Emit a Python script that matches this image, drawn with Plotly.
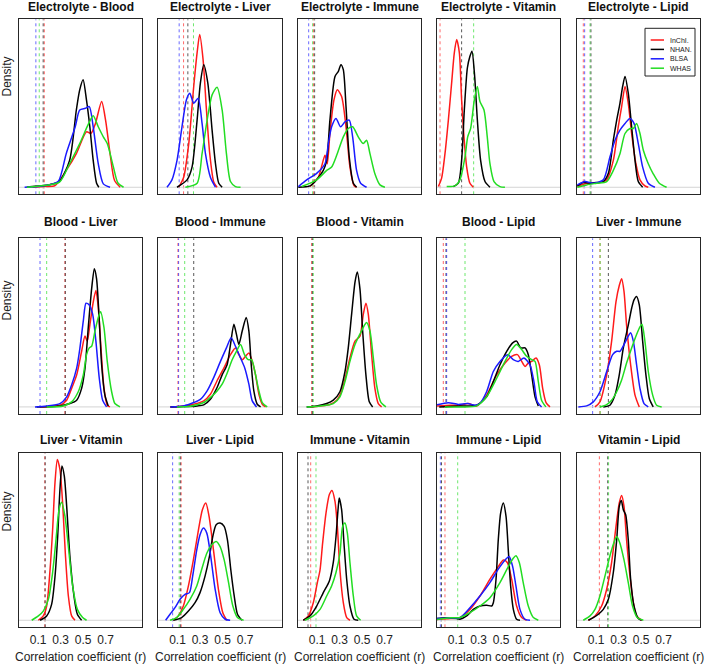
import plotly.graph_objects as go
from plotly.subplots import make_subplots

# -------------------------------
# DATA
# -------------------------------

studies = ["InChI.", "NHAN.", "BLSA", "WHAS"]
colours = {"InChI.": "#ff1a1a", "NHAN.": "#000000", "BLSA": "#1a1aff", "WHAS": "#22dd22"}

titles = ["Electrolyte - Blood", "Electrolyte - Liver", "Electrolyte - Immune", "Electrolyte - Vitamin", "Electrolyte - Lipid",
          "Blood - Liver", "Blood - Immune", "Blood - Vitamin", "Blood - Lipid", "Liver - Immune",
          "Liver - Vitamin", "Liver - Lipid", "Immune - Vitamin", "Immune - Lipid", "Vitamin - Lipid"]

tick_vals = [0.1, 0.3, 0.5, 0.7]
tick_text = ["0.1", "0.3", "0.5", "0.7"]

# density curves: study -> (r values, density)
electrolyte_blood = {
    "InChI.": ([0.05, 0.15, 0.25, 0.35, 0.44, 0.53, 0.57, 0.61, 0.665, 0.7, 0.74, 0.78, 0.83],
               [0.0, 0.05, 0.1, 1.0, 2.0, 3.3, 3.2, 3.8, 5.1, 4.0, 2.0, 0.4, 0.0]),
    "NHAN.": ([0.0, 0.2, 0.29, 0.38, 0.44, 0.47, 0.5, 0.53, 0.56, 0.59, 0.62, 0.64],
              [0.02, 0.15, 0.35, 1.6, 4.6, 5.8, 6.4, 5.2, 3.6, 1.6, 0.24, 0.0]),
    "BLSA": ([-0.02, 0.1, 0.2, 0.28, 0.35, 0.43, 0.47, 0.52, 0.555, 0.59, 0.635, 0.68, 0.74],
             [0.0, 0.05, 0.15, 0.35, 2.0, 3.6, 4.6, 4.7, 4.8, 3.6, 1.4, 0.2, 0.0]),
    "WHAS": ([0.0, 0.15, 0.29, 0.38, 0.47, 0.55, 0.59, 0.635, 0.68, 0.715, 0.77, 0.81, 0.86],
             [0.0, 0.1, 0.3, 1.4, 2.6, 3.8, 4.25, 3.6, 3.0, 2.6, 1.2, 0.25, 0.0]),
}
electrolyte_liver = {
    "InChI.": ([0.111, 0.155, 0.2, 0.244, 0.274, 0.297, 0.327, 0.357, 0.386, 0.422, 0.451],
               [0, 0.6, 2.6, 6.0, 8.0, 9.1, 7.6, 4.6, 2.0, 0.3, 0]),
    "NHAN.": ([0.096, 0.185, 0.229, 0.274, 0.303, 0.333, 0.369, 0.407, 0.437, 0.466, 0.496],
              [0, 0.44, 1.2, 4.0, 6.2, 7.3, 6.2, 3.4, 1.4, 0.24, 0]),
    "BLSA": ([0.007, 0.051, 0.096, 0.14, 0.179, 0.209, 0.244, 0.283, 0.318, 0.348, 0.392, 0.437],
             [0, 0.44, 1.6, 3.6, 5.2, 5.6, 5.0, 5.3, 3.8, 2.0, 0.6, 0]),
    "WHAS": ([0.17, 0.274, 0.318, 0.363, 0.407, 0.451, 0.496, 0.534, 0.57, 0.614, 0.659],
             [0, 0.24, 2.0, 4.0, 5.5, 5.95, 4.6, 2.0, 0.34, 0.04, 0]),
}
electrolyte_immune = {
    "InChI.": ([0.037, 0.111, 0.17, 0.19, 0.214, 0.25, 0.28, 0.318, 0.357, 0.392, 0.428, 0.451],
               [0.04, 0.6, 1.9, 1.4, 3.2, 5.2, 5.8, 5.4, 3.6, 1.2, 0.1, 0]),
    "NHAN.": ([-0.067, 0.037, 0.096, 0.155, 0.185, 0.214, 0.259, 0.289, 0.312, 0.333, 0.357, 0.386, 0.422, 0.451],
              [0, 0.08, 0.44, 1.0, 1.6, 4.0, 6.6, 6.9, 7.3, 7.0, 4.8, 1.8, 0.24, 0]),
    "BLSA": ([-0.067, 0.007, 0.096, 0.17, 0.2, 0.229, 0.268, 0.309, 0.348, 0.386, 0.416, 0.451, 0.487, 0.54],
             [0.04, 0.44, 0.83, 1.4, 2.6, 3.6, 4.1, 3.6, 3.9, 4.0, 3.0, 1.0, 0.24, 0]),
    "WHAS": ([-0.037, 0.096, 0.185, 0.229, 0.274, 0.333, 0.377, 0.416, 0.466, 0.511, 0.54, 0.57, 0.614, 0.659, 0.703],
             [0.04, 0.44, 1.0, 1.2, 1.9, 3.0, 3.5, 3.6, 3.0, 2.6, 2.8, 2.0, 0.8, 0.14, 0]),
}
electrolyte_vitamin = {
    "InChI.": ([-0.058, -0.029, 0.001, 0.031, 0.06, 0.084, 0.105, 0.129, 0.149, 0.17, 0.194, 0.223, 0.253],
               [0.04, 0.54, 2.0, 4.0, 6.2, 8.0, 8.8, 8.0, 5.2, 3.0, 1.2, 0.24, 0]),
    "NHAN.": ([0.075, 0.12, 0.149, 0.173, 0.2, 0.223, 0.241, 0.265, 0.289, 0.318, 0.357, 0.401],
              [0.04, 0.24, 1.6, 4.6, 7.1, 7.8, 8.1, 6.6, 4.0, 1.6, 0.34, 0]),
    "WHAS": ([0.016, 0.09, 0.134, 0.179, 0.203, 0.229, 0.262, 0.289, 0.312, 0.348, 0.377, 0.401, 0.437, 0.49, 0.534],
             [0.04, 0.08, 0.44, 1.8, 3.0, 3.5, 5.2, 6.0, 5.1, 4.6, 3.0, 1.4, 0.34, 0.04, 0]),
}
electrolyte_lipid = {
    "InChI.": ([-0.067, 0.016, 0.134, 0.194, 0.253, 0.297, 0.327, 0.357, 0.386, 0.416, 0.454, 0.49, 0.534, 0.564],
               [0.04, 0.24, 0.28, 0.44, 1.6, 3.6, 4.8, 6.0, 5.0, 3.2, 1.4, 0.44, 0.08, 0]),
    "NHAN.": ([-0.067, -0.014, 0.046, 0.105, 0.164, 0.209, 0.253, 0.283, 0.312, 0.336, 0.357, 0.386, 0.416, 0.446, 0.475, 0.514],
              [0.08, 0.28, 0.24, 0.28, 0.34, 0.83, 2.8, 4.0, 5.0, 6.0, 6.6, 5.6, 3.6, 1.6, 0.34, 0]),
    "BLSA": ([-0.067, 0.001, 0.075, 0.164, 0.223, 0.268, 0.312, 0.357, 0.401, 0.437, 0.475, 0.514, 0.564, 0.623],
             [0.14, 0.34, 0.24, 0.44, 1.8, 2.8, 3.4, 3.8, 4.1, 3.8, 2.6, 1.2, 0.24, 0]),
    "WHAS": ([-0.067, 0.016, 0.105, 0.194, 0.253, 0.312, 0.357, 0.401, 0.431, 0.46, 0.49, 0.52, 0.564, 0.608, 0.662, 0.727],
             [0.0, 0.14, 0.24, 0.34, 1.0, 2.0, 3.2, 3.5, 3.5, 3.8, 3.2, 2.2, 1.4, 0.8, 0.24, 0]),
}
blood_liver = {
    "InChI.": ([0.117, 0.294, 0.354, 0.398, 0.443, 0.487, 0.517, 0.537, 0.561, 0.591, 0.614, 0.635, 0.659, 0.686, 0.715, 0.739],
               [0, 0.1, 0.4, 1.1, 1.9, 3.3, 4.2, 3.9, 4.9, 6.25, 6.9, 5.9, 3.5, 1.1, 0.1, 0]),
    "NHAN.": ([0.087, 0.294, 0.383, 0.443, 0.487, 0.517, 0.546, 0.576, 0.6, 0.62, 0.641, 0.665, 0.694, 0.724],
              [0, 0.06, 0.2, 0.4, 1.1, 2.3, 4.7, 7.0, 8.2, 7.6, 5.5, 2.5, 0.7, 0.06]),
    "BLSA": ([0.072, 0.176, 0.294, 0.354, 0.398, 0.443, 0.472, 0.502, 0.526, 0.555, 0.585, 0.614, 0.644, 0.674, 0.709],
             [0, 0.06, 0.2, 0.6, 1.3, 2.3, 3.5, 5.1, 6.15, 6.05, 5.5, 3.9, 1.7, 0.4, 0]),
    "WHAS": ([0.176, 0.324, 0.398, 0.457, 0.502, 0.531, 0.555, 0.576, 0.606, 0.635, 0.656, 0.686, 0.715, 0.754, 0.783, 0.828],
             [0, 0.06, 0.3, 0.9, 1.9, 3.1, 3.5, 3.6, 4.5, 5.3, 5.65, 4.7, 2.7, 0.9, 0.2, 0]),
}
blood_immune = {
    "InChI.": ([0.037, 0.155, 0.244, 0.333, 0.392, 0.451, 0.511, 0.57, 0.614, 0.644, 0.674, 0.703, 0.733, 0.763, 0.792, 0.822, 0.852, 0.881],
               [0, 0.06, 0.16, 0.36, 0.75, 1.55, 2.3, 3.1, 3.5, 3.1, 2.8, 3.0, 3.2, 2.7, 1.9, 0.75, 0.16, 0]),
    "NHAN.": ([0.037, 0.155, 0.274, 0.333, 0.392, 0.451, 0.496, 0.54, 0.57, 0.6, 0.623, 0.644, 0.674, 0.709, 0.733, 0.754, 0.777, 0.807, 0.837],
              [0, 0.02, 0.06, 0.12, 0.45, 1.15, 1.9, 2.5, 3.7, 4.9, 4.3, 3.7, 4.5, 5.3, 4.5, 2.5, 0.95, 0.16, 0]),
    "BLSA": ([0.037, 0.155, 0.244, 0.303, 0.363, 0.422, 0.481, 0.534, 0.576, 0.614, 0.659, 0.697, 0.733, 0.763, 0.801],
             [0, 0.06, 0.26, 0.45, 0.95, 1.75, 2.7, 3.5, 4.1, 3.6, 2.9, 2.3, 1.35, 0.36, 0]),
    "WHAS": ([0.096, 0.214, 0.333, 0.407, 0.451, 0.496, 0.54, 0.585, 0.623, 0.659, 0.694, 0.727, 0.757, 0.786, 0.822, 0.852, 0.896],
             [0, 0.04, 0.26, 0.65, 0.95, 1.35, 2.0, 2.8, 3.3, 3.7, 3.1, 2.8, 2.8, 2.1, 0.95, 0.26, 0]),
}
blood_vitamin = {
    "InChI.": ([0.037, 0.126, 0.214, 0.274, 0.318, 0.357, 0.392, 0.437, 0.481, 0.511, 0.534, 0.555, 0.585, 0.614, 0.644, 0.674],
               [0, 0.06, 0.14, 0.4, 0.93, 1.9, 2.9, 3.9, 4.2, 5.5, 6.15, 5.5, 3.1, 1.1, 0.2, 0]),
    "NHAN.": ([0.007, 0.096, 0.185, 0.244, 0.303, 0.348, 0.377, 0.407, 0.437, 0.457, 0.481, 0.505, 0.534, 0.564, 0.594],
              [0, 0.06, 0.2, 0.4, 0.9, 2.1, 3.5, 5.5, 7.4, 8.0, 7.0, 4.5, 1.9, 0.3, 0]),
    "WHAS": ([0.007, 0.126, 0.244, 0.303, 0.348, 0.392, 0.437, 0.487, 0.517, 0.54, 0.57, 0.6, 0.629, 0.665, 0.712],
             [0, 0.06, 0.2, 0.6, 1.5, 2.7, 3.7, 4.4, 4.8, 5.0, 4.5, 2.9, 1.3, 0.3, 0]),
}
blood_lipid = {
    "InChI.": ([-0.07, 0.05, 0.134, 0.209, 0.283, 0.371, 0.461, 0.535, 0.594, 0.645, 0.683, 0.713, 0.742, 0.772, 0.811, 0.84, 0.87, 0.9, 0.935],
               [0.05, 0.1, 0.1, 0.2, 0.06, 0.7, 1.9, 2.6, 3.0, 3.1, 2.7, 2.4, 2.6, 2.7, 2.9, 2.5, 1.1, 0.26, 0]),
    "NHAN.": ([-0.05, 0.134, 0.283, 0.371, 0.431, 0.49, 0.55, 0.603, 0.638, 0.674, 0.713, 0.742, 0.772, 0.802, 0.831],
              [0, 0.06, 0.1, 0.6, 1.5, 2.5, 3.3, 3.8, 3.9, 3.5, 3.5, 3.1, 1.9, 0.6, 0.06]),
    "BLSA": ([-0.07, 0.03, 0.12, 0.2, 0.27, 0.31, 0.371, 0.431, 0.49, 0.558, 0.608, 0.653, 0.703, 0.757, 0.792, 0.822, 0.86],
             [0.12, 0.25, 0.15, 0.2, 0.1, 0.2, 0.9, 2.1, 2.7, 3.1, 2.8, 2.7, 2.9, 2.5, 1.5, 0.3, 0]),
    "WHAS": ([0.0, 0.134, 0.283, 0.371, 0.461, 0.535, 0.594, 0.638, 0.683, 0.727, 0.772, 0.802, 0.831, 0.86, 0.899],
             [0, 0.0, 0.06, 0.6, 1.7, 2.7, 3.4, 3.7, 3.4, 3.0, 2.8, 2.7, 1.5, 0.4, 0]),
}
liver_immune = {
    "InChI.": ([0.09, 0.134, 0.194, 0.238, 0.277, 0.306, 0.327, 0.348, 0.371, 0.407, 0.446, 0.484],
               [0, 0.3, 1.9, 3.9, 6.25, 7.2, 7.6, 6.85, 4.85, 2.5, 0.7, 0]),
    "NHAN.": ([0.164, 0.223, 0.268, 0.306, 0.342, 0.386, 0.416, 0.437, 0.46, 0.484, 0.514, 0.543, 0.573, 0.608],
              [0, 0.1, 0.7, 1.9, 3.5, 4.85, 5.85, 6.35, 6.55, 6.05, 3.9, 1.9, 0.5, 0]),
    "BLSA": ([-0.058, 0.016, 0.075, 0.134, 0.194, 0.247, 0.283, 0.312, 0.348, 0.386, 0.407, 0.431, 0.46, 0.49, 0.526, 0.564],
             [0, 0.06, 0.3, 0.9, 2.1, 3.1, 3.3, 3.3, 3.7, 4.2, 4.4, 3.9, 2.5, 1.1, 0.2, 0]),
    "WHAS": ([0.134, 0.194, 0.238, 0.283, 0.327, 0.371, 0.416, 0.46, 0.49, 0.508, 0.534, 0.564, 0.603, 0.638, 0.683],
             [0, 0.14, 0.4, 0.9, 1.6, 2.6, 3.5, 4.3, 4.75, 4.9, 3.9, 2.1, 0.7, 0.1, 0]),
}
liver_vitamin = {
    "InChI.": ([0.102, 0.146, 0.176, 0.206, 0.229, 0.25, 0.271, 0.294, 0.318, 0.342, 0.369, 0.398, 0.428],
               [0, 0.26, 0.85, 3.0, 5.4, 8.2, 9.6, 9.0, 7.0, 4.0, 1.45, 0.26, 0]),
    "NHAN.": ([0.117, 0.176, 0.22, 0.25, 0.274, 0.294, 0.312, 0.333, 0.354, 0.383, 0.419, 0.449, 0.487],
              [0, 0.26, 0.95, 2.6, 5.0, 7.8, 9.2, 8.6, 6.8, 3.8, 1.45, 0.36, 0]),
    "WHAS": ([0.043, 0.102, 0.146, 0.191, 0.229, 0.259, 0.286, 0.309, 0.339, 0.369, 0.407, 0.449, 0.496, 0.531],
             [0, 0.26, 0.55, 1.25, 2.85, 4.8, 6.6, 7.05, 6.2, 4.4, 2.05, 0.65, 0.16, 0]),
}
liver_lipid = {
    "InChI.": ([0.063, 0.108, 0.152, 0.197, 0.241, 0.286, 0.321, 0.351, 0.38, 0.419, 0.463, 0.502, 0.537],
               [0, 0.26, 0.85, 2.05, 3.6, 5.4, 6.6, 7.0, 6.2, 4.2, 1.85, 0.45, 0]),
    "NHAN.": ([0.063, 0.137, 0.197, 0.256, 0.3, 0.345, 0.383, 0.413, 0.443, 0.478, 0.514, 0.543, 0.573, 0.603, 0.632, 0.671],
              [0, 0.16, 0.55, 1.05, 1.65, 2.65, 3.8, 5.0, 5.7, 5.8, 5.6, 4.8, 3.0, 1.45, 0.36, 0]),
    "BLSA": ([-0.005, 0.034, 0.078, 0.123, 0.167, 0.206, 0.235, 0.271, 0.3, 0.33, 0.36, 0.395, 0.434, 0.478, 0.523, 0.567],
             [0, 0.36, 0.75, 1.25, 1.55, 1.65, 2.65, 4.2, 5.1, 5.5, 5.2, 3.8, 1.85, 0.45, 0.06, 0]),
    "WHAS": ([0.034, 0.093, 0.152, 0.211, 0.271, 0.315, 0.36, 0.404, 0.443, 0.478, 0.514, 0.553, 0.591, 0.632, 0.686],
             [0, 0.16, 0.65, 1.25, 2.05, 3.05, 4.0, 4.5, 4.7, 4.4, 3.6, 2.25, 0.85, 0.16, 0]),
}
immune_vitamin = {
    "InChI.": ([-0.023, 0.022, 0.066, 0.102, 0.126, 0.149, 0.179, 0.209, 0.232, 0.259, 0.28, 0.303, 0.333, 0.363, 0.392],
               [0, 0.26, 1.05, 2.25, 3.0, 4.6, 6.4, 7.5, 7.75, 7.1, 5.6, 3.0, 1.05, 0.16, 0]),
    "NHAN.": ([-0.023, 0.037, 0.096, 0.155, 0.209, 0.244, 0.268, 0.286, 0.297, 0.318, 0.339, 0.363, 0.392, 0.428, 0.466],
              [0, 0.26, 0.85, 1.65, 2.35, 3.45, 5.0, 6.6, 7.3, 6.6, 4.6, 2.45, 0.85, 0.06, 0]),
    "WHAS": ([-0.008, 0.066, 0.126, 0.185, 0.229, 0.268, 0.303, 0.327, 0.348, 0.369, 0.392, 0.422, 0.451, 0.487],
             [0, 0.26, 0.65, 1.45, 2.05, 2.85, 4.0, 5.6, 5.8, 5.2, 3.45, 1.45, 0.26, 0]),
}
immune_lipid = {
    "InChI.": ([-0.07, 0.05, 0.134, 0.223, 0.312, 0.401, 0.475, 0.52, 0.555, 0.594, 0.638, 0.683, 0.727],
               [0.05, 0.1, 0.16, 0.65, 1.45, 2.45, 3.2, 3.6, 3.45, 2.45, 0.85, 0.16, 0]),
    "NHAN.": ([-0.07, 0.0, 0.05, 0.1, 0.134, 0.194, 0.253, 0.312, 0.371, 0.416, 0.431, 0.455, 0.475, 0.496, 0.52, 0.544, 0.564, 0.585, 0.609, 0.638, 0.668],
              [0.1, 0.15, 0.12, 0.1, 0.06, 0.26, 0.65, 0.85, 0.9, 0.85, 1.05, 2.45, 4.8, 6.4, 7.0, 6.2, 4.2, 2.05, 0.65, 0.06, 0]),
    "BLSA": ([-0.07, 0.05, 0.134, 0.223, 0.312, 0.401, 0.475, 0.55, 0.573, 0.603, 0.632, 0.668, 0.712, 0.757],
             [0.1, 0.14, 0.16, 0.75, 1.45, 2.25, 3.05, 3.7, 3.8, 3.2, 2.05, 0.65, 0.06, 0]),
    "WHAS": ([-0.07, 0.05, 0.134, 0.223, 0.312, 0.401, 0.49, 0.564, 0.608, 0.632, 0.662, 0.697, 0.742, 0.787, 0.831],
             [0.05, 0.15, 0.16, 0.45, 0.85, 1.35, 2.25, 3.2, 3.7, 3.85, 3.45, 2.25, 0.85, 0.16, 0]),
}
vitamin_lipid = {
    "InChI.": ([0.031, 0.09, 0.149, 0.194, 0.238, 0.277, 0.306, 0.327, 0.348, 0.371, 0.401, 0.431, 0.46, 0.505],
               [0, 0.26, 0.85, 1.85, 3.45, 5.6, 7.0, 7.45, 6.8, 4.8, 2.65, 1.05, 0.26, 0]),
    "NHAN.": ([0.031, 0.075, 0.12, 0.164, 0.209, 0.253, 0.283, 0.306, 0.324, 0.342, 0.363, 0.386, 0.407, 0.437, 0.475, 0.505],
              [0, 0.16, 0.36, 0.65, 1.25, 2.85, 4.8, 6.8, 7.15, 6.6, 6.3, 4.8, 2.45, 0.85, 0.1, 0]),
    "WHAS": ([-0.014, 0.046, 0.09, 0.134, 0.179, 0.223, 0.262, 0.283, 0.312, 0.348, 0.386, 0.424, 0.466, 0.52],
             [0, 0.26, 0.65, 1.45, 2.65, 3.85, 4.7, 5.0, 4.6, 3.6, 2.25, 0.85, 0.16, 0]),
}

panels = [electrolyte_blood, electrolyte_liver, electrolyte_immune, electrolyte_vitamin, electrolyte_lipid,
          blood_liver, blood_immune, blood_vitamin, blood_lipid, liver_immune,
          liver_vitamin, liver_lipid, immune_vitamin, immune_lipid, vitamin_lipid]

# dotted vertical cut-off lines per panel
cutoffs = [
    {"InChI.": 0.155, "NHAN.": 0.145, "BLSA": 0.08, "WHAS": 0.11},
    {"InChI.": 0.154, "NHAN.": 0.192, "BLSA": 0.115, "WHAS": 0.242},
    {"InChI.": 0.068, "NHAN.": 0.078, "BLSA": 0.025, "WHAS": 0.06},
    {"InChI.": -0.043, "NHAN.": 0.149, "WHAS": 0.256},
    {"InChI.": -0.014, "NHAN.": 0.054, "BLSA": -0.002, "WHAS": 0.046},
    {"InChI.": 0.338, "NHAN.": 0.342, "BLSA": 0.117, "WHAS": 0.176},
    {"InChI.": 0.104, "NHAN.": 0.244, "BLSA": 0.11, "WHAS": 0.164},
    {"InChI.": 0.051, "NHAN.": 0.058, "WHAS": 0.066},
    {"InChI.": -0.014, "NHAN.": 0.01, "BLSA": 0.016, "WHAS": 0.179},
    {"InChI.": 0.134, "NHAN.": 0.209, "BLSA": 0.069, "WHAS": 0.136},
    {"InChI.": 0.159, "NHAN.": 0.163},
    {"InChI.": 0.133, "NHAN.": 0.125, "BLSA": 0.057, "WHAS": 0.115},
    {"InChI.": 0.043, "NHAN.": 0.019, "WHAS": 0.09},
    {"InChI.": 0.001, "NHAN.": -0.03, "BLSA": -0.04, "WHAS": 0.114},
    {"InChI.": 0.129, "NHAN.": 0.203, "WHAS": 0.211},
]

# -------------------------------
# LAYOUT GEOMETRY (pixels)
# -------------------------------

W, H = 709, 665
col_px = [(19, 142), (158.3, 281.7), (298, 421), (437, 560), (577, 700)]
row_px = [(19.3, 194.3), (238.3, 414), (452.7, 627.3)]
title_y = [7, 222, 440]
density_y = [77, 301, 512]
FONT = "Liberation Sans, Arial, sans-serif"


def px(x):
    return x / W


def py(y):
    return 1 - y / H


fig = make_subplots(rows=3, cols=5)

annotations = []
shapes = []

for i, panel in enumerate(panels):
    r, c = i // 5 + 1, i % 5 + 1
    ax = "" if i == 0 else str(i + 1)

    for s in studies:
        if s in cutoffs[i]:
            shapes.append(dict(type="line", xref="x" + ax, yref="y" + ax + " domain",
                               x0=cutoffs[i][s], x1=cutoffs[i][s], y0=0, y1=1, opacity=0.65,
                               line=dict(color=colours[s], width=1, dash="dot"), layer="below"))
    shapes.append(dict(type="line", xref="x" + ax + " domain", yref="y" + ax,
                       x0=0, x1=1, y0=0, y1=0, line=dict(color="#d4d4d4", width=1), layer="below"))

    for s in studies:
        if s not in panel:
            continue
        xs, ys = panel[s]
        fig.add_trace(go.Scatter(x=xs, y=ys, mode="lines", name=s, showlegend=False,
                                 line=dict(color=colours[s], width=1.5, shape="spline", smoothing=0.7),
                                 hoverinfo="skip"),
                      row=r, col=c)

    x0, x1 = col_px[c - 1]
    y0, y1 = row_px[r - 1]
    fig.update_xaxes(domain=[px(x0), px(x1)], range=[-0.07, 1.024],
                     showline=True, mirror=True, linecolor="#262626", linewidth=1.4,
                     showgrid=False, zeroline=False,
                     tickvals=tick_vals, ticktext=tick_text,
                     showticklabels=(r == 3), ticks="outside", ticklen=1,
                     tickcolor="rgba(0,0,0,0)",
                     tickfont=dict(size=12, color="#222", family=FONT),
                     row=r, col=c)
    fig.update_yaxes(domain=[py(y1), py(y0)], range=[-0.42, 10],
                     showline=True, mirror=True, linecolor="#262626", linewidth=1.4,
                     showgrid=False, zeroline=False, showticklabels=False, ticks="",
                     row=r, col=c)

    annotations.append(dict(text="<b>" + titles[i] + "</b>", x=px((x0 + x1) / 2), y=py(title_y[r - 1]),
                            xref="paper", yref="paper", showarrow=False, xanchor="center", yanchor="middle",
                            font=dict(size=12, color="#111", family=FONT)))
    if r == 3:
        annotations.append(dict(text="Correlation coefficient (r)", x=px((x0 + x1) / 2), y=py(657),
                                xref="paper", yref="paper", showarrow=False, xanchor="center", yanchor="middle",
                                font=dict(size=12, color="#222", family=FONT)))
    if c == 1:
        annotations.append(dict(text="Density", x=px(6.5), y=py(density_y[r - 1]), textangle=-90,
                                xref="paper", yref="paper", showarrow=False, xanchor="center", yanchor="middle",
                                font=dict(size=12, color="#222", family=FONT)))

# -------------------------------
# LEGEND (inside Electrolyte - Lipid panel)
# -------------------------------

shapes.append(dict(type="rect", xref="paper", yref="paper", x0=px(645), x1=px(695), y0=py(76), y1=py(28.3),
                   line=dict(color="#222", width=1), fillcolor="white"))
for k, s in enumerate(studies):
    yy = 40 + k * 9.4
    shapes.append(dict(type="line", xref="paper", yref="paper", x0=px(650.7), x1=px(664), y0=py(yy), y1=py(yy),
                       line=dict(color=colours[s], width=1.5)))
    annotations.append(dict(text=s, x=px(667.5), y=py(yy), xref="paper", yref="paper", showarrow=False,
                            xanchor="left", yanchor="middle", font=dict(size=7, color="#222", family=FONT)))

fig.update_layout(
    width=W, height=H,
    margin=dict(l=0, r=0, t=0, b=0),
    plot_bgcolor="white", paper_bgcolor="white",
    showlegend=False,
    annotations=annotations,
    shapes=shapes,
)

# page body has a default 8px margin; drop it so the figure fills the window
fig.write_html("out.html", config={"displayModeBar": False},
               post_script="document.body.style.margin='0';")
